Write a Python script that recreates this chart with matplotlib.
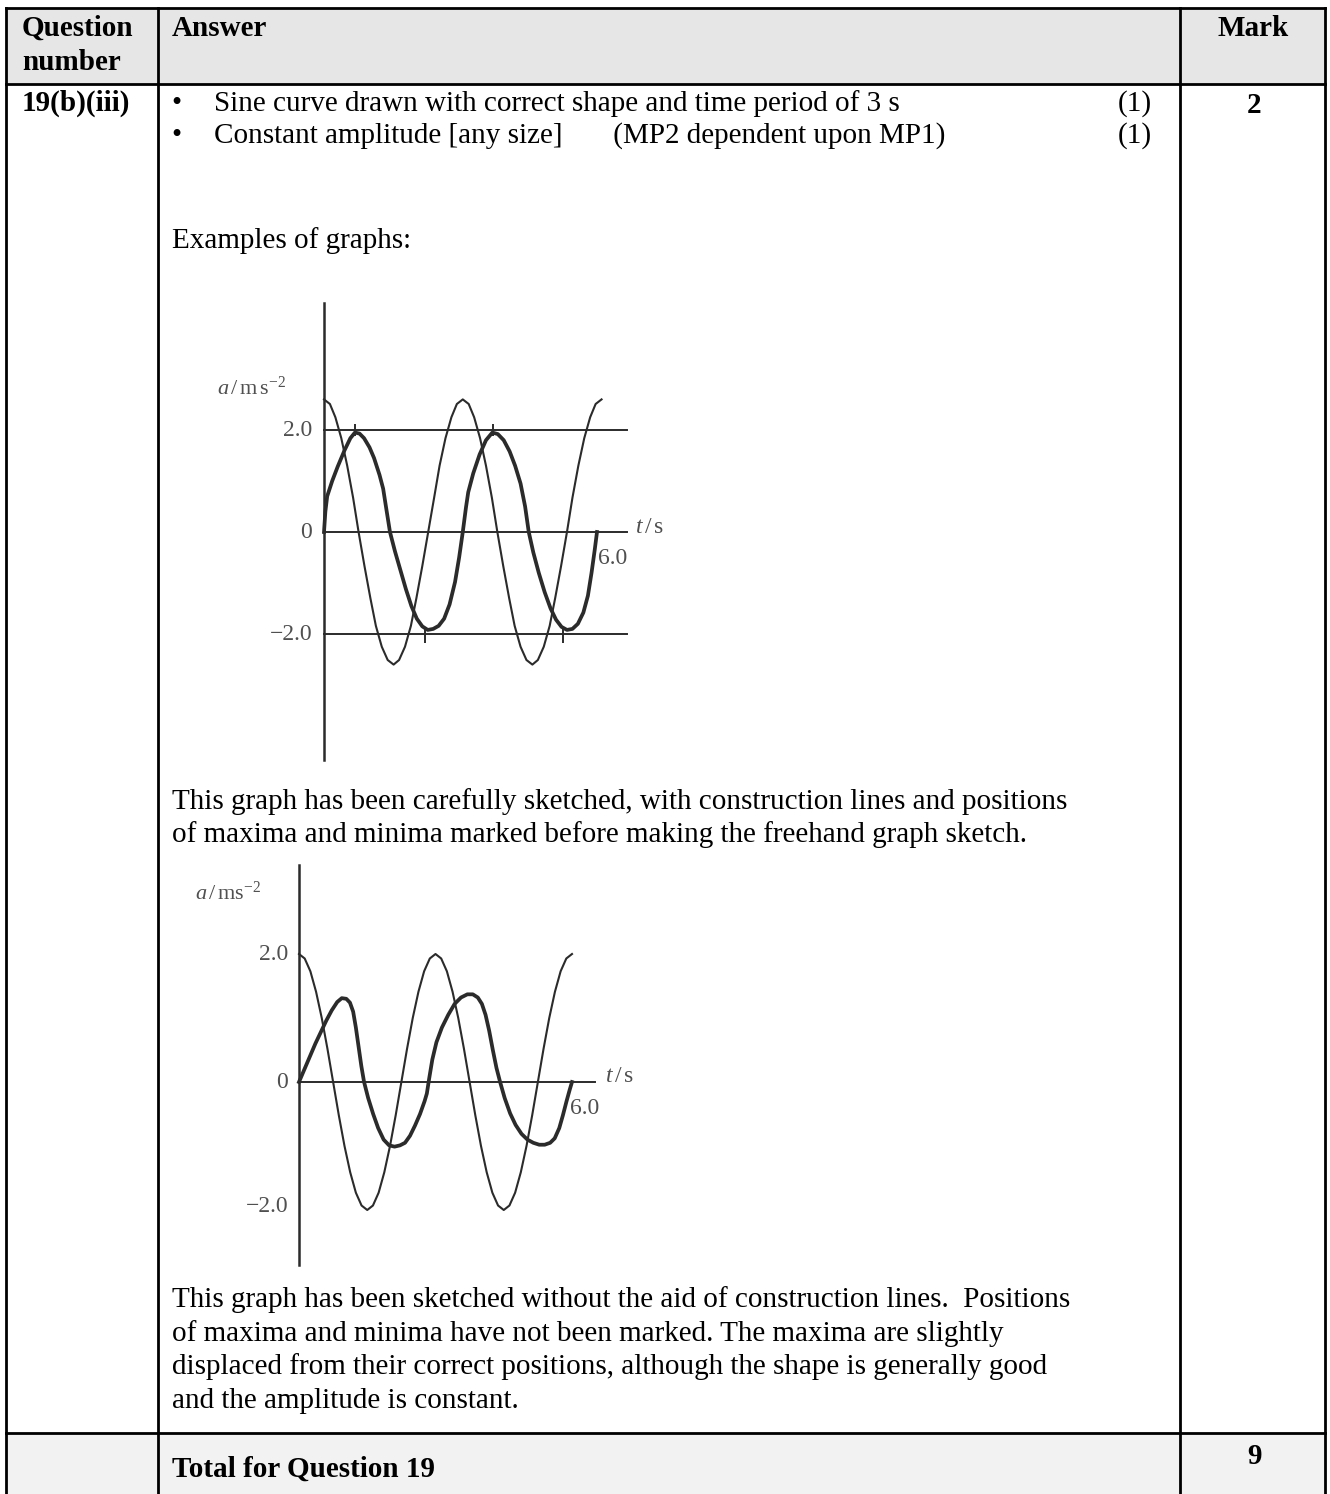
import matplotlib
matplotlib.use("Agg")
import matplotlib.pyplot as plt

plt.rcParams['font.family'] = ['Liberation Serif', 'DejaVu Serif']
plt.rcParams['mathtext.fontset'] = 'custom'
plt.rcParams['mathtext.rm'] = 'Liberation Serif'
plt.rcParams['mathtext.it'] = 'Liberation Serif:italic'

# ---------------- data ----------------
header_labels = ["Question\nnumber", "Answer", "Mark"]
question_id = "19(b)(iii)"
bullet_points = ["Sine curve drawn with correct shape and time period of 3 s",
                 "Constant amplitude [any size]       (MP2 dependent upon MP1)"]
bullet_marks = ["(1)", "(1)"]
row_mark = "2"
total_label = "Total for Question 19"
total_mark = "9"
intro_text = "Examples of graphs:"
caption1 = ["This graph has been carefully sketched, with construction lines and positions",
            "of maxima and minima marked before making the freehand graph sketch."]
caption2 = ["This graph has been sketched without the aid of construction lines.  Positions",
            "of maxima and minima have not been marked. The maxima are slightly",
            "displaced from their correct positions, although the shape is generally good",
            "and the amplitude is constant."]

# graph 1 : given curve (thin) and sketched answer (thick)
g1_thin_t = [0.00, 0.13, 0.25, 0.38, 0.51, 0.64, 0.76, 0.89, 1.02, 1.14, 1.27, 1.40,
             1.53, 1.65, 1.78, 1.91, 2.03, 2.16, 2.29, 2.42, 2.54, 2.67, 2.80, 2.92,
             3.05, 3.18, 3.30, 3.43, 3.56, 3.69, 3.81, 3.94, 4.07, 4.19, 4.32, 4.45,
             4.58, 4.70, 4.83, 4.96, 5.08, 5.21, 5.34, 5.46, 5.59, 5.72, 5.85, 5.97, 6.10]
g1_thin_a = [2.60, 2.51, 2.25, 1.84, 1.30, 0.67, 0.00, -0.67, -1.30, -1.84, -2.25, -2.51,
             -2.60, -2.51, -2.25, -1.84, -1.30, -0.67, 0.00, 0.67, 1.30, 1.84, 2.25, 2.51,
             2.60, 2.51, 2.25, 1.84, 1.30, 0.67, 0.00, -0.67, -1.30, -1.84, -2.25, -2.51,
             -2.60, -2.51, -2.25, -1.84, -1.30, -0.67, 0.00, 0.67, 1.30, 1.84, 2.25, 2.51, 2.60]
g1_thick_t = [0.00, 0.03, 0.07, 0.18, 0.30, 0.45, 0.58, 0.68, 0.78, 0.88, 1.00, 1.10,
              1.22, 1.30, 1.37, 1.45, 1.56, 1.68, 1.80, 1.92, 2.04, 2.16, 2.28, 2.40,
              2.52, 2.64, 2.76, 2.88, 2.97, 3.05, 3.12, 3.17, 3.28, 3.42, 3.56, 3.70,
              3.82, 3.95, 4.08, 4.20, 4.32, 4.42, 4.50, 4.60, 4.72, 4.85, 4.98, 5.10,
              5.22, 5.34, 5.46, 5.58, 5.70, 5.80, 5.88, 5.95, 6.00]
g1_thick_a = [0.00, 0.40, 0.70, 1.00, 1.28, 1.60, 1.84, 1.95, 1.93, 1.84, 1.66, 1.45,
              1.12, 0.85, 0.45, 0.00, -0.38, -0.75, -1.12, -1.45, -1.70, -1.85, -1.92, -1.90,
              -1.84, -1.70, -1.42, -0.98, -0.50, 0.00, 0.48, 0.78, 1.15, 1.52, 1.80, 1.95,
              1.92, 1.80, 1.58, 1.30, 0.95, 0.50, 0.00, -0.40, -0.80, -1.18, -1.50, -1.72,
              -1.86, -1.92, -1.90, -1.80, -1.58, -1.25, -0.80, -0.35, 0.00]
g1_levels = [2.0, 0.0, -2.0]
g1_level_labels = ["2.0", "0", "\u22122.0"]
g1_max_ticks = [0.68, 3.72]
g1_min_ticks = [2.22, 5.26]

# graph 2
g2_thin_t = [0.000, 0.125, 0.250, 0.375, 0.500, 0.625, 0.750, 0.875, 1.000, 1.125, 1.250, 1.375,
             1.500, 1.625, 1.750, 1.875, 2.000, 2.125, 2.250, 2.375, 2.500, 2.625, 2.750, 2.875,
             3.000, 3.125, 3.250, 3.375, 3.500, 3.625, 3.750, 3.875, 4.000, 4.125, 4.250, 4.375,
             4.500, 4.625, 4.750, 4.875, 5.000, 5.125, 5.250, 5.375, 5.500, 5.625, 5.750, 5.875, 6.000]
g2_thin_a = [2.00, 1.93, 1.73, 1.41, 1.00, 0.52, 0.00, -0.52, -1.00, -1.41, -1.73, -1.93,
             -2.00, -1.93, -1.73, -1.41, -1.00, -0.52, 0.00, 0.52, 1.00, 1.41, 1.73, 1.93,
             2.00, 1.93, 1.73, 1.41, 1.00, 0.52, 0.00, -0.52, -1.00, -1.41, -1.73, -1.93,
             -2.00, -1.93, -1.73, -1.41, -1.00, -0.52, 0.00, 0.52, 1.00, 1.41, 1.73, 1.93, 2.00]
g2_thick_t = [0.00, 0.12, 0.24, 0.36, 0.48, 0.60, 0.72, 0.84, 0.94, 1.04, 1.12, 1.19,
              1.25, 1.31, 1.37, 1.43, 1.52, 1.63, 1.74, 1.86, 1.98, 2.10, 2.22, 2.33,
              2.44, 2.55, 2.66, 2.76, 2.81, 2.86, 2.93, 3.02, 3.14, 3.28, 3.42, 3.56,
              3.70, 3.82, 3.93, 4.02, 4.10, 4.18, 4.26, 4.34, 4.42, 4.52, 4.64, 4.76,
              4.89, 5.02, 5.15, 5.28, 5.40, 5.52, 5.62, 5.72, 5.80, 5.88, 5.95, 6.00]
g2_thick_a = [0.00, 0.20, 0.40, 0.60, 0.78, 0.96, 1.12, 1.25, 1.31, 1.30, 1.24, 1.10,
              0.85, 0.55, 0.25, 0.00, -0.25, -0.50, -0.72, -0.90, -0.99, -1.01, -0.99, -0.95,
              -0.84, -0.68, -0.50, -0.30, -0.18, 0.05, 0.35, 0.62, 0.85, 1.05, 1.22, 1.32,
              1.37, 1.37, 1.32, 1.22, 1.05, 0.80, 0.50, 0.22, 0.00, -0.25, -0.49, -0.67,
              -0.81, -0.90, -0.95, -0.98, -0.98, -0.95, -0.88, -0.72, -0.52, -0.30, -0.12, 0.00]
g2_levels = [2.0, 0.0, -1.95]
g2_level_labels = ["2.0", "0", "\u22122.0"]
t_end_label = "6.0"

# ---------------- figure ----------------
W, H = 1330, 1494
fig = plt.figure(figsize=(W / 100, H / 100), dpi=100)
fig.patch.set_facecolor("white")

base = fig.add_axes([0, 0, 1, 1])
base.set_xlim(0, W)
base.set_ylim(H, 0)
base.axis("off")

# table geometry (pixels)
xL, xC1, xC2, xR = 6, 158, 1180, 1325
yT, yH, yR, yB = 8, 84, 1433, 1494
tlw = 2.0

base.fill_between([xL, xR], yT, yH, color="#e6e6e6", zorder=0)
base.fill_between([xL, xR], yR, yB, color="#f2f2f2", zorder=0)
for y in (yT, yH, yR):
    base.plot([xL, xR], [y, y], color="black", lw=tlw, solid_capstyle="projecting", zorder=3)
for x in (xL, xC1, xC2, xR):
    base.plot([x, x], [yT, yB], color="black", lw=tlw, solid_capstyle="projecting", zorder=3)

fs_b = 21
fs = 21
q1, q2 = header_labels[0].split("\n")
base.text(22, 36, q1, fontsize=fs_b, weight="bold", va="baseline")
base.text(22, 70, q2, fontsize=fs_b, weight="bold", va="baseline")
base.text(172, 36, header_labels[1], fontsize=fs_b, weight="bold", va="baseline")
base.text(1253, 36, header_labels[2], fontsize=fs_b, weight="bold", va="baseline", ha="center")

base.text(22, 111, question_id, fontsize=fs_b, weight="bold", va="baseline")
base.text(1254, 113, row_mark, fontsize=21, weight="bold", va="baseline", ha="center")

for i, (txt, mk) in enumerate(zip(bullet_points, bullet_marks)):
    yb = 111 + 32 * i
    base.text(171, yb, "\u2022", fontsize=fs, va="baseline")
    base.text(214, yb, txt, fontsize=fs, va="baseline")
    base.text(1152, yb, mk, fontsize=fs, va="baseline", ha="right")

base.text(172, 248, intro_text, fontsize=fs, va="baseline")
for i, line in enumerate(caption1):
    base.text(172, 809 + 33.5 * i, line, fontsize=fs, va="baseline")
for i, line in enumerate(caption2):
    base.text(172, 1307 + 33.7 * i, line, fontsize=fs, va="baseline")

base.text(172, 1477, total_label, fontsize=fs_b, weight="bold", va="baseline")
base.text(1254, 1464, total_mark, fontsize=21, weight="bold", va="baseline", ha="center")

# ---------------- graphs ----------------
line_col = "#2b2b2b"
lab_col = "#505050"
lab_fs = 17
unit_fs = 16


def make_graph_axes(t0_px, zero_px, px_per_s, px_per_a, xlim, ylim):
    left = t0_px + xlim[0] * px_per_s
    width = (xlim[1] - xlim[0]) * px_per_s
    top = zero_px - ylim[1] * px_per_a
    height = (ylim[1] - ylim[0]) * px_per_a
    ax = fig.add_axes([left / W, (H - top - height) / H, width / W, height / H])
    ax.set_xlim(*xlim)
    ax.set_ylim(*ylim)
    ax.axis("off")
    ax.patch.set_alpha(0)
    return ax


# graph 1
ax1 = make_graph_axes(324, 532, 45.5, 51, (-3.5, 8.0), (-4.6, 4.6))
ax1.plot([0, 0], [-4.47, 4.49], color=line_col, lw=1.8)
for lv in g1_levels:
    ax1.plot([0, 6.66], [lv, lv], color=line_col, lw=1.4)
ax1.plot(g1_thin_t, g1_thin_a, color=line_col, lw=1.5)
ax1.plot(g1_thick_t, g1_thick_a, color=line_col, lw=2.7, solid_joinstyle="round")
ax1.vlines(g1_max_ticks, 1.88, 2.12, color=line_col, lw=1.4)
ax1.vlines(g1_min_ticks, -2.18, -1.9, color=line_col, lw=1.4)
for lv, lb in zip(g1_levels, g1_level_labels):
    ax1.text(-0.26, lv, lb, fontsize=lab_fs, color=lab_col, ha="right", va="center")
ax1.text(-2.35, 2.82, r"$a\,/\,\mathrm{m\,s}^{-2}$", fontsize=unit_fs, color=lab_col, ha="left", va="center")
ax1.text(6.84, 0.08, r"$t\,/\,\mathrm{s}$", fontsize=lab_fs, color=lab_col, ha="left", va="center")
ax1.text(6.02, -0.52, t_end_label, fontsize=lab_fs, color=lab_col, ha="left", va="center")

# graph 2
ax2 = make_graph_axes(299, 1082, 45.5, 64, (-3.0, 8.0), (-3.0, 3.5))
ax2.plot([0, 0], [-2.86, 3.39], color=line_col, lw=1.8)
ax2.plot([0, 6.5], [0, 0], color=line_col, lw=1.4)
ax2.plot(g2_thin_t, g2_thin_a, color=line_col, lw=1.5)
ax2.plot(g2_thick_t, g2_thick_a, color=line_col, lw=2.7, solid_joinstyle="round")
for lv, lb in zip(g2_levels, g2_level_labels):
    ax2.text(-0.24, lv, lb, fontsize=lab_fs, color=lab_col, ha="right", va="center")
ax2.text(-2.29, 2.95, r"$a\,/\,\mathrm{ms}^{-2}$", fontsize=unit_fs, color=lab_col, ha="left", va="center")
ax2.text(6.72, 0.08, r"$t\,/\,\mathrm{s}$", fontsize=lab_fs, color=lab_col, ha="left", va="center")
ax2.text(5.96, -0.41, t_end_label, fontsize=lab_fs, color=lab_col, ha="left", va="center")

fig.savefig("out.png", dpi=100, facecolor="white")
